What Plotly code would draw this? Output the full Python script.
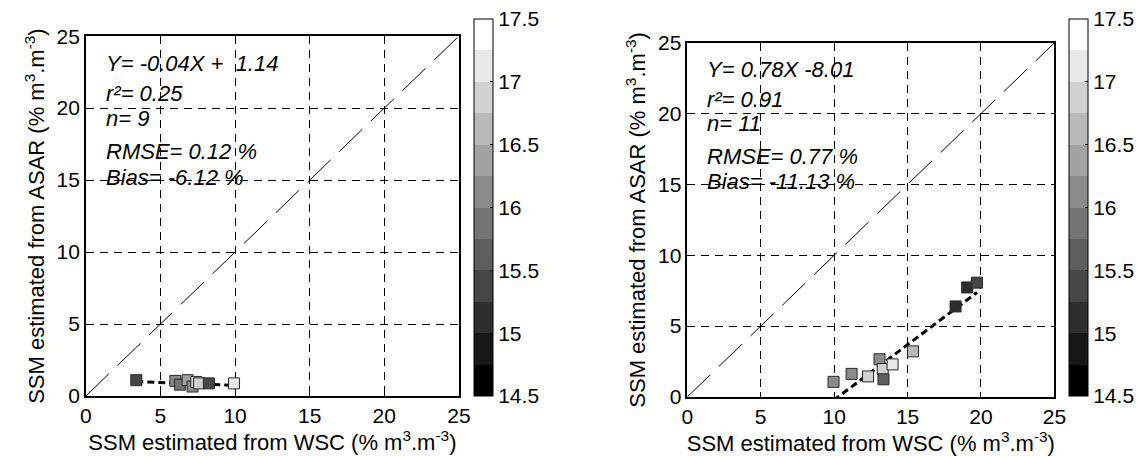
import plotly.graph_objects as go

W, H = 1147, 456

# ---------------- data ----------------
left_x = [3.38, 6.0, 6.3, 6.82, 7.15, 7.4, 7.59, 8.24, 9.93]
left_y = [1.10, 1.05, 0.79, 1.10, 0.66, 0.98, 0.88, 0.88, 0.88]
left_c = [15.4, 16.1, 15.9, 16.3, 16.2, 16.8, 16.9, 15.3, 17.0]
left_fit_x = [3.38, 9.93]
left_slope, left_icpt = -0.04, 1.14

right_x = [9.96, 11.19, 12.31, 13.09, 13.31, 13.36, 13.98, 15.37, 18.27, 19.06, 19.73]
right_y = [1.07, 1.63, 1.45, 2.66, 1.97, 1.25, 2.30, 3.22, 6.39, 7.73, 8.07]
right_c = [16.0, 16.0, 16.9, 16.2, 16.8, 15.5, 17.0, 16.5, 15.1, 15.1, 15.3]
right_fit_x = [9.96, 19.73]
right_slope, right_icpt = 0.78, -8.01

one_to_one = [0, 25]
axis_ticks = [0, 5, 10, 15, 20, 25]
cbar_ticks = [14.5, 15, 15.5, 16, 16.5, 17, 17.5]
cbar_labels = ["14.5", "15", "15.5", "16", "16.5", "17", "17.5"]
cmin, cmax, nlev = 14.5, 17.5, 12

left_text = ["Y= -0.04X +  1.14", "r²= 0.25", "n= 9", "RMSE= 0.12 %", "Bias= -6.12 %"]
right_text = ["Y= 0.78X -8.01", "r²= 0.91", "n= 11", "RMSE= 0.77 %", "Bias= -11.13 %"]
text_y = [23.1, 21.0, 19.3, 17.0, 15.2]

xtitle = "SSM estimated from WSC (% m<sup>3</sup>.m<sup>-3</sup>)"
ytitle = "SSM estimated from ASAR (% m<sup>3</sup>.m<sup>-3</sup>)"

# ---------------- styling ----------------
FONT = "Liberation Sans, Arial, sans-serif"
FS = 21
TFS = 22
AFS = 22

# discrete gray colorscale with 12 levels
cs = []
for i in range(nlev):
    g = round(255 * i / (nlev - 1))
    col = f"rgb({g},{g},{g})"
    cs.append([i / nlev, col])
    cs.append([(i + 1) / nlev, col])

# nudge the end ticks just inside the colour range so they are kept
eps = 1e-4
cb_tickvals = [min(max(v, cmin + eps), cmax - eps) for v in cbar_ticks]


def px_x(p):
    return p / W


def px_y(p):
    return 1 - p / H


fig = go.Figure()

panels = [
    dict(xa="x", ya="y", x=left_x, y=left_y, c=left_c, fx=left_fit_x,
         s=left_slope, b=left_icpt, ca="coloraxis", txt=left_text),
    dict(xa="x2", ya="y2", x=right_x, y=right_y, c=right_c, fx=right_fit_x,
         s=right_slope, b=right_icpt, ca="coloraxis2", txt=right_text),
]

for p in panels:
    # 1:1 line
    fig.add_trace(go.Scatter(x=one_to_one, y=one_to_one, mode="lines",
                             line=dict(color="black", width=1, dash="32px,12px"),
                             xaxis=p["xa"], yaxis=p["ya"], showlegend=False,
                             hoverinfo="skip"))
    # regression line
    fy = [p["s"] * v + p["b"] for v in p["fx"]]
    fig.add_trace(go.Scatter(x=p["fx"], y=fy, mode="lines",
                             line=dict(color="black", width=3, dash="7px,4px"),
                             xaxis=p["xa"], yaxis=p["ya"], showlegend=False,
                             hoverinfo="skip"))
    # points
    fig.add_trace(go.Scatter(x=p["x"], y=p["y"], mode="markers",
                             marker=dict(symbol="square", size=11,
                                         color=p["c"], coloraxis=p["ca"],
                                         line=dict(color="rgb(40,40,40)", width=1)),
                             xaxis=p["xa"], yaxis=p["ya"], showlegend=False,
                             cliponaxis=False))

axis_common = dict(range=[0, 25], tickvals=axis_ticks, ticks="inside", ticklen=5,
                   tickcolor="black", showline=True, linecolor="black", linewidth=1.5,
                   mirror=True, showgrid=True, gridcolor="black", gridwidth=1,
                   griddash="8px,6px", zeroline=False,
                   tickfont=dict(family=FONT, size=FS, color="black"),
                   fixedrange=True)


def cbar(xpix):
    return dict(x=px_x(xpix), xanchor="left", xpad=0,
                y=px_y(396), yanchor="bottom", ypad=0,
                lenmode="pixels", len=377,
                thicknessmode="pixels", thickness=19,
                outlinecolor="black", outlinewidth=1,
                tickmode="array", tickvals=cb_tickvals, ticktext=cbar_labels,
                ticks="inside", ticklen=3, tickcolor="black",
                ticklabeloverflow="allow",
                tickfont=dict(family=FONT, size=FS, color="black"))


fig.update_layout(
    width=W, height=H,
    margin=dict(l=0, r=0, t=0, b=0),
    paper_bgcolor="white", plot_bgcolor="white",
    font=dict(family=FONT, size=FS, color="black"),
    xaxis=dict(axis_common, domain=[px_x(73), px_x(452)], anchor="y",
               title=dict(text=xtitle, font=dict(size=TFS), standoff=8)),
    yaxis=dict(axis_common, domain=[px_y(396), px_y(17)], anchor="x",
               title=dict(text=ytitle, font=dict(size=TFS), standoff=6)),
    xaxis2=dict(axis_common, domain=[px_x(684), px_x(1057)], anchor="y2",
                title=dict(text=xtitle, font=dict(size=TFS), standoff=8)),
    yaxis2=dict(axis_common, domain=[px_y(397), px_y(24)], anchor="x2",
                title=dict(text=ytitle, font=dict(size=TFS), standoff=6)),
    coloraxis=dict(cmin=cmin, cmax=cmax, colorscale=cs, colorbar=cbar(467)),
    coloraxis2=dict(cmin=cmin, cmax=cmax, colorscale=cs, colorbar=cbar(1072)),
)

for p in panels:
    for t, yy in zip(p["txt"], text_y):
        fig.add_annotation(x=1.2, y=yy, xref=p["xa"], yref=p["ya"], text=t,
                           showarrow=False, xanchor="left", yanchor="middle",
                           font=dict(family=FONT, size=AFS, color="black",
                                     style="italic"))

fig.write_html("out.html")
